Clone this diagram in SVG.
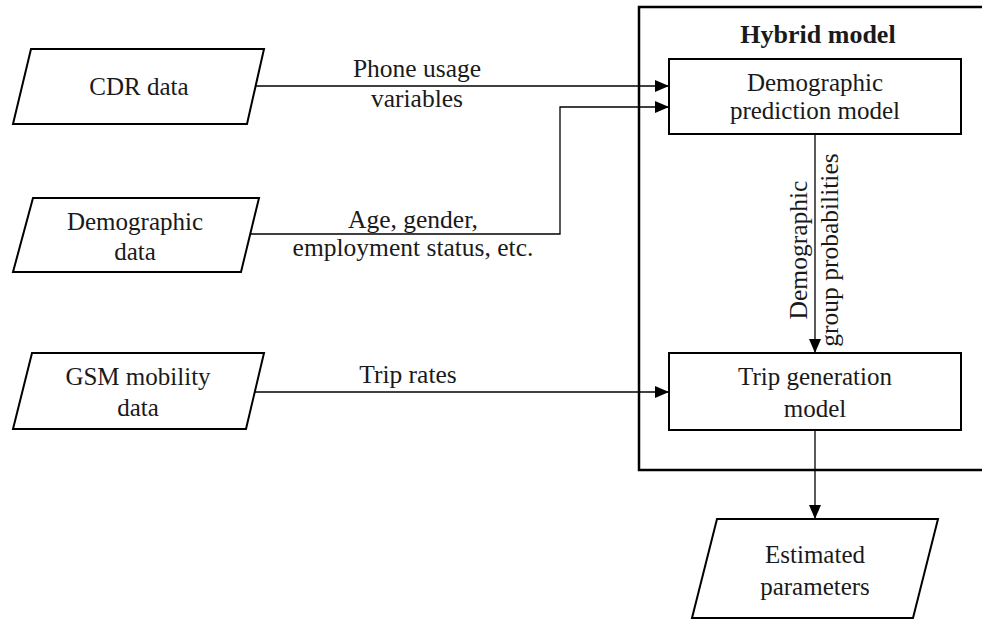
<svg xmlns="http://www.w3.org/2000/svg" width="982" height="620" viewBox="0 0 982 620">
<style>
.shape{fill:#fff;stroke:#000;stroke-width:2}
.frame{fill:none;stroke:#000;stroke-width:2.5}
.edge{fill:none;stroke:#000;stroke-width:1.3}
text{font-family:"Liberation Serif","Times New Roman",serif;fill:#1a1a1a;text-anchor:middle}
.n{font-size:25px}
.l{font-size:25.5px}
.b{font-size:26px;font-weight:bold}
</style>
<defs>
<marker id="ah" markerWidth="14" markerHeight="12" refX="14" refY="6" orient="auto" markerUnits="userSpaceOnUse">
<path d="M0,0 L14,6 L0,12 Z" fill="#000"/>
</marker>
</defs>
<rect width="982" height="620" fill="#fff"/>
<g id="hybrid">
<rect class="frame" x="639" y="7" width="400" height="463"/>
<text class="b" x="818" y="43">Hybrid model</text>
</g>
<g id="cdr">
<polygon class="shape" points="31,49 264,49 247,124 13,124"/>
<text class="n" x="139" y="95">CDR data</text>
</g>
<g id="demo">
<polygon class="shape" points="33,198 259,198 241,272 13,272"/>
<text class="n" x="135" y="230">Demographic</text>
<text class="n" x="135" y="260">data</text>
</g>
<g id="gsm">
<polygon class="shape" points="32,353 264,353 246,429 13,429"/>
<text class="n" x="138" y="385">GSM mobility</text>
<text class="n" x="138" y="416">data</text>
</g>
<g id="dpm">
<rect class="shape" x="669" y="59" width="292" height="75"/>
<text class="n" x="815" y="91">Demographic</text>
<text class="n" x="815" y="119">prediction model</text>
</g>
<g id="tgm">
<rect class="shape" x="669" y="353" width="292" height="77"/>
<text class="n" x="815" y="385">Trip generation</text>
<text class="n" x="815" y="417">model</text>
</g>
<g id="est">
<polygon class="shape" points="717,519 938,519 913,618 692,618"/>
<text class="n" x="815" y="563">Estimated</text>
<text class="n" x="815" y="595">parameters</text>
</g>
<g id="connectors">
<path class="edge" d="M256,86 L669,86" marker-end="url(#ah)"/>
<path class="edge" d="M250,234 L560,234 L560,107 L669,107" marker-end="url(#ah)"/>
<path class="edge" d="M255,392 L669,392" marker-end="url(#ah)"/>
<path class="edge" d="M815,134 L815,353" marker-end="url(#ah)"/>
<path class="edge" d="M815,430 L815,519" marker-end="url(#ah)"/>
<text class="l" x="417" y="77">Phone usage</text>
<text class="l" x="417" y="107">variables</text>
<text class="l" x="413" y="228">Age, gender,</text>
<text class="l" x="413" y="256">employment status, etc.</text>
<text class="l" x="408" y="383">Trip rates</text>
<text class="l" transform="translate(807,250) rotate(-90)">Demographic</text>
<text class="l" transform="translate(838,250) rotate(-90)">group probabilities</text>
</g>
</svg>
